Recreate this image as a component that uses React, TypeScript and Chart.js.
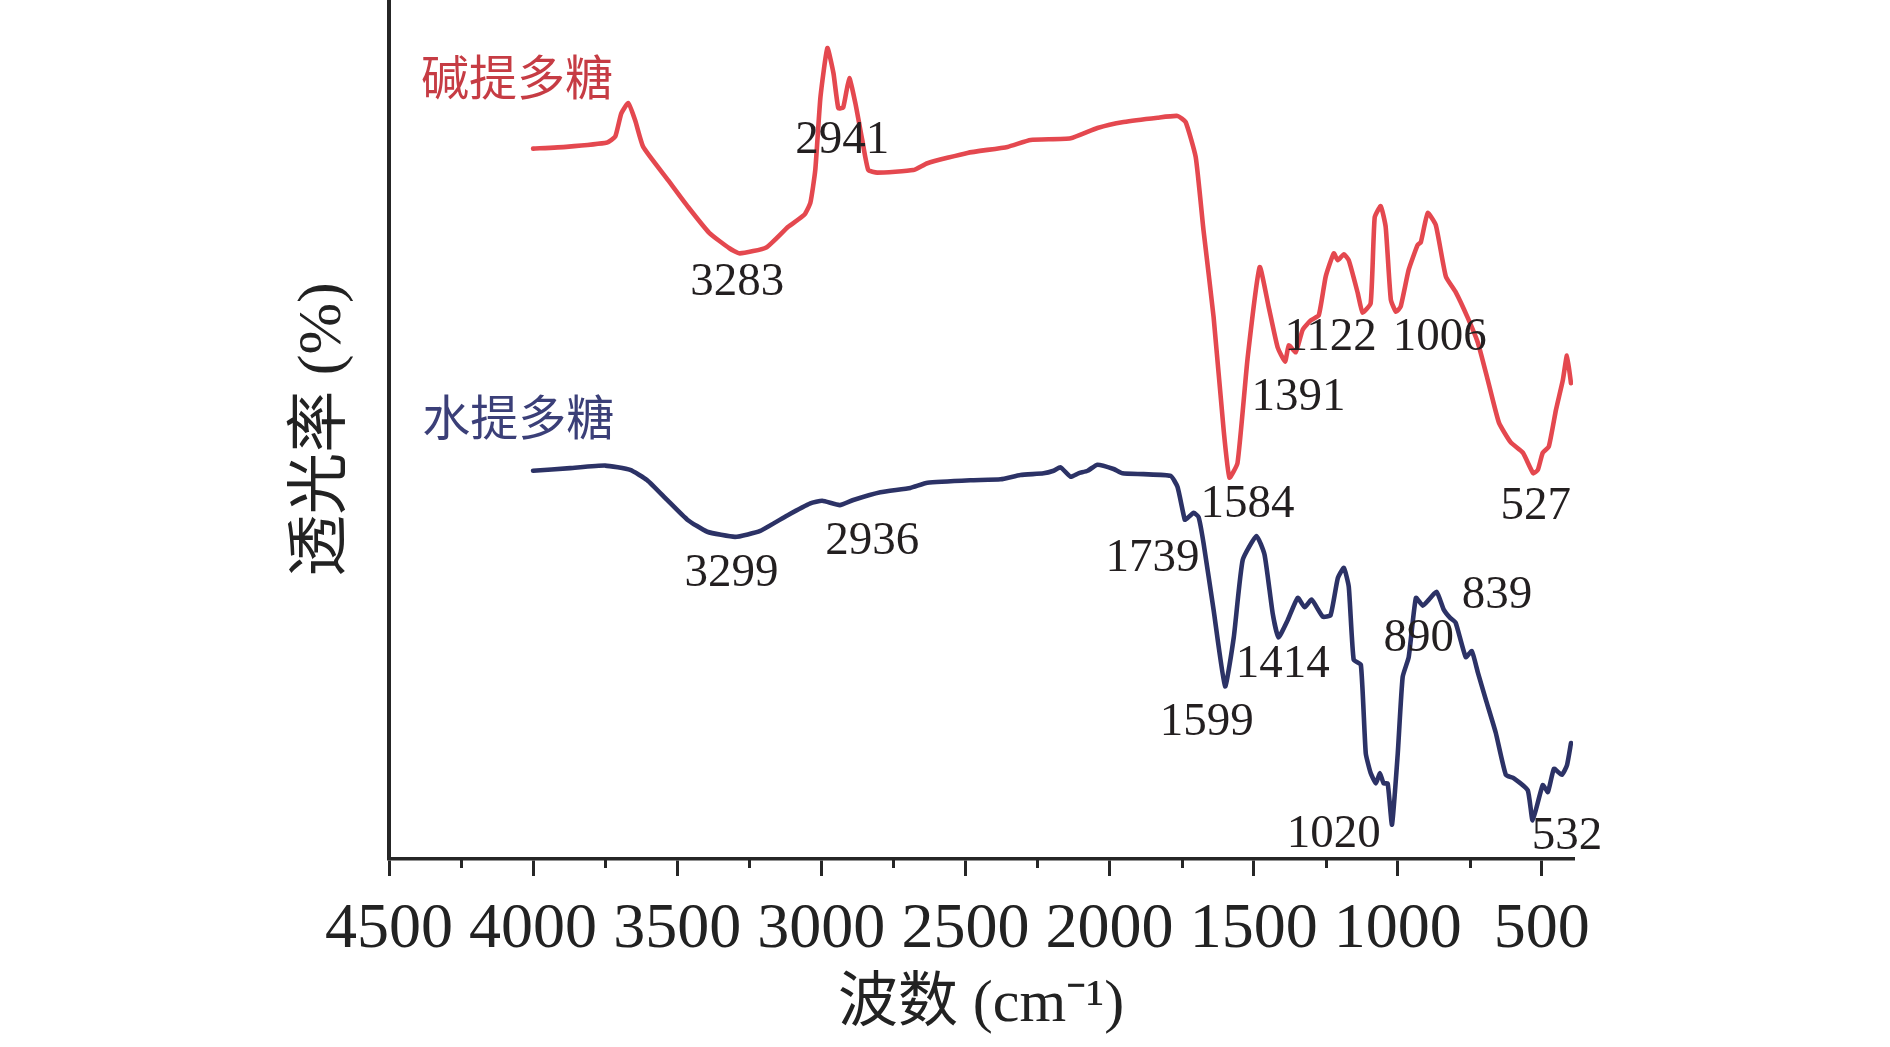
import React, { useEffect, useRef } from 'react';
import { Chart, registerables } from 'chart.js';

Chart.register(...registerables);

// ---- data ----
const X_TICKS = [4500, 4000, 3500, 3000, 2500, 2000, 1500, 1000, 500];
const MINOR_TICKS = [4250, 3750, 3250, 2750, 2250, 1750, 1250, 750];

const ALKALI_WN = [4000, 3885, 3743, 3715, 3694, 3670, 3646, 3618, 3531, 3462, 3389, 3319, 3283, 3191, 3115, 3059, 3038, 3021, 3003, 2979, 2958, 2941, 2924, 2903, 2882, 2858, 2837, 2806, 2681, 2632, 2493, 2354, 2274, 2135, 2042, 1951, 1833, 1764, 1736, 1701, 1674, 1639, 1604, 1584, 1556, 1521, 1479, 1448, 1417, 1391, 1378, 1354, 1330, 1302, 1274, 1250, 1222, 1208, 1187, 1170, 1139, 1122, 1094, 1080, 1059, 1042, 1024, 1006, 990, 962, 931, 920, 896, 868, 833, 799, 757, 722, 688, 649, 608, 566, 530, 514, 497, 476, 451, 427, 413, 399];
const ALKALI_T = [82.7, 82.9, 83.4, 84.1, 86.8, 88.0, 86.0, 82.9, 79.0, 75.9, 72.9, 71.1, 70.5, 71.2, 73.6, 75.0, 76.4, 80.2, 88.7, 94.4, 91.5, 87.4, 87.5, 90.9, 88.0, 83.7, 80.2, 79.9, 80.2, 81.0, 82.2, 82.9, 83.7, 83.9, 85.1, 85.8, 86.3, 86.5, 85.8, 81.7, 73.2, 63.1, 49.9, 44.4, 46.1, 58.3, 68.9, 64.3, 59.6, 57.9, 59.8, 59.0, 61.6, 62.7, 63.3, 67.8, 70.5, 69.7, 70.4, 69.7, 65.9, 63.6, 64.7, 74.7, 76.0, 73.6, 65.1, 63.7, 64.3, 68.6, 71.5, 71.8, 75.2, 73.8, 67.8, 66.0, 63.0, 60.1, 55.8, 50.8, 48.5, 47.3, 44.9, 45.3, 47.3, 48.0, 52.3, 55.8, 58.6, 55.4];

const WATER_WN = [4000, 3872, 3750, 3663, 3604, 3535, 3465, 3396, 3299, 3212, 3118, 3038, 2997, 2936, 2889, 2795, 2691, 2632, 2483, 2378, 2309, 2229, 2194, 2170, 2135, 2108, 2076, 2042, 1986, 1955, 1882, 1788, 1764, 1739, 1729, 1708, 1691, 1674, 1639, 1599, 1569, 1538, 1490, 1462, 1434, 1414, 1382, 1347, 1323, 1299, 1260, 1233, 1208, 1187, 1170, 1153, 1128, 1111, 1094, 1076, 1062, 1049, 1035, 1020, 1000, 983, 962, 937, 913, 892, 865, 840, 819, 799, 764, 743, 722, 694, 660, 625, 597, 549, 532, 497, 479, 458, 431, 413, 399];
const WATER_T = [45.2, 45.5, 45.8, 45.3, 44.1, 41.8, 39.5, 38.1, 37.5, 38.2, 40.0, 41.4, 41.7, 41.2, 41.8, 42.7, 43.2, 43.8, 44.1, 44.2, 44.7, 44.9, 45.2, 45.6, 44.5, 44.9, 45.2, 45.9, 45.4, 44.9, 44.8, 44.6, 43.3, 39.5, 39.7, 40.3, 39.8, 36.8, 29.0, 20.1, 25.8, 34.8, 37.6, 35.4, 28.6, 25.8, 27.8, 30.4, 29.3, 30.2, 28.2, 28.4, 32.7, 33.9, 31.7, 23.2, 22.6, 12.3, 10.0, 8.8, 10.0, 8.8, 8.8, 4.0, 12.3, 21.2, 23.5, 30.4, 29.5, 30.2, 31.1, 29.0, 28.1, 27.5, 23.5, 24.2, 21.7, 18.5, 14.7, 9.8, 9.4, 8.0, 4.5, 8.6, 7.8, 10.5, 9.8, 10.9, 13.5];

// peak annotations: text, anchor wavenumber, anchor transmittance
const PEAK_LABELS = ['3283', '2941', '1584', '1391', '1122', '1006', '527', '3299', '2936', '1739', '1599', '1414', '890', '839', '1020', '532'];
const PEAK_LABEL_WN = [3292, 2927, 1521, 1344, 1233, 854, 521, 3312, 2823, 1851, 1663, 1399, 927, 656, 1222, 413];
const PEAK_LABEL_T = [67.1, 83.6, 41.2, 53.7, 60.7, 60.7, 41.0, 33.2, 37.0, 35.0, 15.9, 22.6, 25.7, 30.6, 2.8, 2.6];

const SERIES_NAMES = ['碱提多糖', '水提多糖'];
const SERIES_NAME_WN = [4389, 4385];
const SERIES_NAME_T = [90.4, 50.8];

// ---- styles ----
const RED = '#e4484f';
const RED_TEXT = '#c63c44';
const BLUE = '#2c3266';
const BLUE_TEXT = '#3b3f78';
const AXIS = '#262626';
const SERIF = '"Liberation Serif", "Times New Roman", "Noto Sans CJK SC", serif';

const overlayPlugin = {
  id: 'overlayText',
  afterDraw(chart: any) {
    const { ctx, chartArea, scales } = chart;
    const x = scales.x;
    const y = scales.y;
    ctx.save();
    // minor ticks
    ctx.strokeStyle = AXIS;
    ctx.lineWidth = 3;
    MINOR_TICKS.forEach((v) => {
      const px = Math.round(x.getPixelForValue(v)) + 0.5;
      ctx.beginPath();
      ctx.moveTo(px, chartArea.bottom);
      ctx.lineTo(px, chartArea.bottom + 9);
      ctx.stroke();
    });
    // peak labels
    ctx.font = `47px ${SERIF}`;
    ctx.fillStyle = '#231f20';
    ctx.textAlign = 'center';
    ctx.textBaseline = 'middle';
    PEAK_LABELS.forEach((t, i) => {
      ctx.fillText(t, x.getPixelForValue(PEAK_LABEL_WN[i]), y.getPixelForValue(PEAK_LABEL_T[i]));
    });
    // series names
    ctx.font = `48px ${SERIF}`;
    ctx.textAlign = 'left';
    const colors = [RED_TEXT, BLUE_TEXT];
    SERIES_NAMES.forEach((t, i) => {
      ctx.fillStyle = colors[i];
      ctx.fillText(t, x.getPixelForValue(SERIES_NAME_WN[i]), y.getPixelForValue(SERIES_NAME_T[i]));
    });
    ctx.restore();
  },
};

export default function App() {
  const ref = useRef<HTMLCanvasElement>(null);
  useEffect(() => {
    if (!ref.current) return;
    const chart = new Chart(ref.current, {
      type: 'line',
      data: {
        datasets: [
          {
            label: SERIES_NAMES[0],
            data: ALKALI_WN.map((w, i) => ({ x: w, y: ALKALI_T[i] })),
            borderColor: RED,
            borderWidth: 4.6,
            pointRadius: 0,
            tension: 0.15,
            borderJoinStyle: 'round',
            borderCapStyle: 'round',
            fill: false,
          },
          {
            label: SERIES_NAMES[1],
            data: WATER_WN.map((w, i) => ({ x: w, y: WATER_T[i] })),
            borderColor: BLUE,
            borderWidth: 4.6,
            pointRadius: 0,
            tension: 0.15,
            borderJoinStyle: 'round',
            borderCapStyle: 'round',
            fill: false,
          },
        ],
      },
      options: {
        animation: false,
        responsive: false,
        devicePixelRatio: 1,
        layout: { padding: { left: 0, top: 0, right: 317, bottom: 0 } },
        plugins: {
          legend: { display: false },
          tooltip: { enabled: false },
        },
        scales: {
          x: {
            type: 'linear',
            reverse: true,
            min: 392,
            max: 4500,
            afterBuildTicks: (scale: any) => {
              scale.ticks = X_TICKS.map((v) => ({ value: v }));
            },
            afterFit: (scale: any) => {
              scale.height = 188;
            },
            ticks: {
              autoSkip: false,
              maxRotation: 0,
              minRotation: 0,
              includeBounds: false,
              padding: 16,
              color: '#222',
              font: { family: SERIF, size: 64 },
              callback: (v: any) => String(v),
            },
            grid: {
              display: true,
              drawOnChartArea: false,
              drawTicks: true,
              tickLength: 17,
              tickWidth: 3,
              tickColor: AXIS,
              color: AXIS,
              lineWidth: 3,
            },
            border: { display: true, color: AXIS, width: 3.5 },
            title: {
              display: true,
              text: '波数 (cm⁻¹)',
              color: '#222',
              font: { family: SERIF, size: 60 },
              padding: { top: 0, bottom: 6 },
            },
          },
          y: {
            type: 'linear',
            min: 0,
            max: 100,
            afterFit: (scale: any) => {
              scale.width = 389;
            },
            ticks: { display: false },
            grid: { display: false, drawTicks: false },
            border: { display: true, color: AXIS, width: 4 },
            title: {
              display: true,
              text: '透光率 (%)',
              color: '#222',
              font: { family: SERIF, size: 62 },
              padding: { top: 287, bottom: 0 },
            },
          },
        },
      },
      plugins: [overlayPlugin],
    } as any);
    return () => chart.destroy();
  }, []);
  return (
    <div style={{ position: 'fixed', left: 0, top: 0, width: 1890, height: 1047, background: '#fff' }}>
      <canvas ref={ref} width={1890} height={1047} style={{ width: 1890, height: 1047, display: 'block' }} />
    </div>
  );
}
